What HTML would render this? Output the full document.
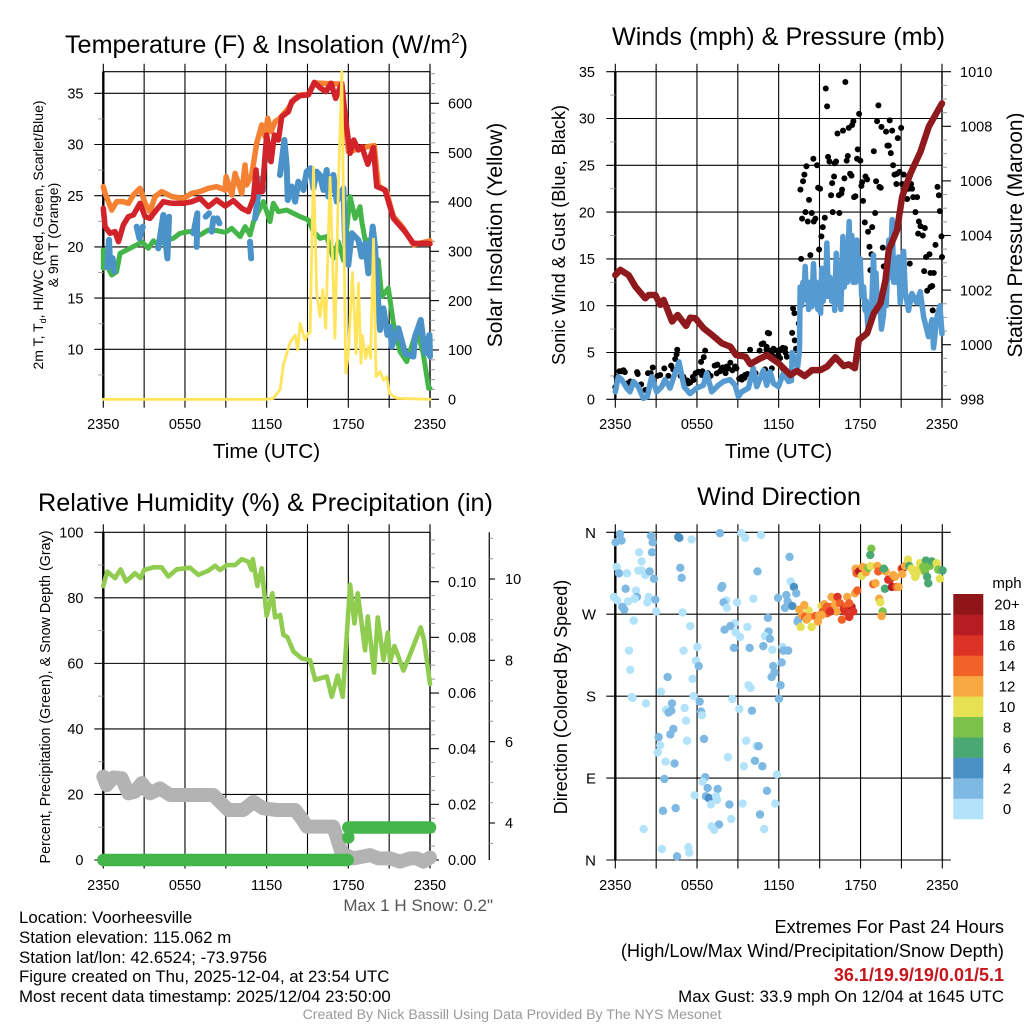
<!DOCTYPE html>
<html lang="en">
<head>
<meta charset="utf-8">
<title>Station Meteogram</title>
<style>
html,body{margin:0;padding:0;background:#fff;}
svg{display:block;font-family:"Liberation Sans",Arial,sans-serif;}
</style>
</head>
<body>
<svg id="chart" xmlns="http://www.w3.org/2000/svg" width="1024" height="1024" viewBox="0 0 1024 1024">
<rect width="1024" height="1024" fill="#fff"/>
<g id="layer"></g>
<g fill="#000" text-anchor="middle" font-size="25.2">
<text x="266.500" y="53">Temperature (F) &amp; Insolation (W/m<tspan font-size="15" dy="-10">2</tspan><tspan dy="10">)</tspan></text>
<text x="778.500" y="45">Winds (mph) &amp; Pressure (mb)</text>
<text x="265.500" y="511">Relative Humidity (%) &amp; Precipitation (in)</text>
<text x="779" y="505">Wind Direction</text>
</g>
<g fill="#000" text-anchor="middle">
<text x="266.500" y="458" font-size="20.700">Time (UTC)</text>
<text x="778.500" y="458" font-size="20.700">Time (UTC)</text>
<text font-size="14" transform="translate(43,235) rotate(-90)">2m T, T<tspan font-size="9" dy="3">d</tspan><tspan dy="-3">, HI/WC (Red, Green, Scarlet/Blue)</tspan></text>
<text font-size="14" transform="translate(58,235) rotate(-90)">&amp; 9m T (Orange)</text>
<text font-size="21" transform="translate(502,235) rotate(-90)">Solar Insolation (Yellow)</text>
<text font-size="18.150" transform="translate(565,235) rotate(-90)">Sonic Wind &amp; Gust (Blue, Black)</text>
<text font-size="20.900" transform="translate(1022,235) rotate(-90)">Station Pressure (Maroon)</text>
<text font-size="14.300" transform="translate(50,697) rotate(-90)">Percent, Precipitation (Green), &amp; Snow Depth (Gray)</text>
<text font-size="18.050" transform="translate(567,697) rotate(-90)">Direction (Colored By Speed)</text>
</g>
<g font-size="16.850" fill="#000">
<text x="493" y="911" text-anchor="end" font-size="17" fill="#555">Max 1 H Snow: 0.2"</text>
<text x="19" y="923">Location: Voorheesville</text>
<text x="19" y="943">Station elevation: 115.062 m</text>
<text x="19" y="963">Station lat/lon: 42.6524; -73.9756</text>
<text x="19" y="982">Figure created on Thu, 2025-12-04, at 23:54 UTC</text>
<text x="19" y="1002">Most recent data timestamp: 2025/12/04 23:50:00</text>
<text x="1004" y="933" text-anchor="end" font-size="18.200">Extremes For Past 24 Hours</text>
<text x="1004" y="957" text-anchor="end" font-size="18.200">(High/Low/Max Wind/Precipitation/Snow Depth)</text>
<text x="1004" y="981" text-anchor="end" font-size="18" font-weight="bold" fill="#c4161c">36.1/19.9/19/0.01/5.1</text>
<text x="1004" y="1002" text-anchor="end">Max Gust: 33.9 mph On 12/04 at 1645 UTC</text>
<text x="512" y="1019" text-anchor="middle" font-size="14.100" fill="#999">Created By Nick Bassill Using Data Provided By The NYS Mesonet</text>
</g>
</svg>
<script>
// ---------- time axis ----------
const timeTickHours = [0,3,6,9,12,15,18,21,24];
const timeTickLabels = ['2350','','0550','','1150','','1750','','2350'];

// ---------- temperature panel ----------
const tempHours = [0,.13,.49,.86,1.11,1.47,1.84,2.21,2.7,3.07,3.43,3.8,4.41,5.03,5.88,6.5,7.11,7.72,8.33,8.95,9.56,10.17,10.66,11.03,11.22,11.34,11.68,12,12.32,12.57,12.86,13.11,13.6,13.84,14.45,15.07,15.51,15.92,16.36,16.73,17.07,17.52,17.76,18.13,18.4,18.74,18.99,19.43,19.84,20.09,20.7,21.31,22.17,22.78,23.89,24];
const tempValues = [23.77,21.98,21.33,21.49,20.51,22.14,22.95,23.12,24.26,22.95,22.79,23.44,24.42,24.26,24.26,24.42,24.74,23.93,24.58,23.99,24.52,23.77,23.44,24.74,27.51,25.4,25.4,30.93,28.33,30.93,30.44,32.72,33.21,34.19,34.77,34.84,36.07,35.55,35.16,35.98,34.51,35.98,32.88,29.14,30.44,29.47,29.79,28.07,29.69,25.89,25.56,22.79,21.49,20.35,20.35,20.3];
const temp9mHours = [0,.13,.62,.98,1.47,1.84,2.21,2.7,3.07,3.43,3.8,4.29,5.03,5.88,6.5,7.11,7.72,8.33,8.95,9.02,9.44,9.68,10.17,10.41,10.53,10.9,11.27,11.64,11.88,12.08,12.32,12.62,12.98,13.6,14.09,14.45,15.07,15.5,17.5,18,19.1,19.9,20.2,20.8,21.3,22,22.8,24];
const temp9mValues = [25.88,25.23,23.6,24.42,24.42,24.25,25.07,25.72,24.25,23.44,24.91,25.4,24.91,24.74,25.23,25.4,25.72,25.88,25.56,26.86,25.07,27.18,25.23,28,26.05,27.03,30.12,31.91,30.77,32.56,31.26,32.23,32.56,33.54,34.51,34.84,34.9,36,35.9,29.3,29.7,29.9,26,25.4,23,21.9,20.2,20.6];
const dewHours = [0,0,.25,.62,.98,1.23,1.72,2.45,2.82,3.31,3.68,4.04,4.53,5.15,5.64,6.25,6.74,7.11,7.72,8.33,8.95,9.44,10.05,10.42,10.78,11.03,11.76,12.25,12.49,12.86,13.47,14.45,15.07,15.43,15.92,16.41,16.9,17.27,17.64,18.13,18.5,18.86,18.99,19.23,19.47,19.8,20.2,20.45,20.94,21.31,21.8,22.29,23.03,23.5,23.9,24];
const dewValues = [19.7,17.9,18.2,17.25,17.58,19.37,19.7,20.19,20.5,19.86,20.6,20.19,20.67,20.84,21.33,21.49,21.49,21.16,21.65,21.59,21.42,21.81,21,21.98,21.16,22.46,24.42,22.47,24.26,23.44,23.6,22.96,22.63,21.49,20.84,21,18.9,20.5,18.7,24.91,22.79,23.93,22.47,20.7,20.68,19,18.72,15.14,15.96,12.54,9.77,8.8,11.9,9.6,6.2,6.2];
const chillHours = [.3,.42,.5,.69,.79,null,2.45,2.65,2.9,null,4.04,4.41,4.58,4.71,4.83,null,6.62,6.91,6.86,null,7.52,7.77,null,7.96,8.09,null,8.38,8.53,null,10.78,10.86,null,11.15,11.34,11.64,11.76,null,12,12.02,null,12.98,13.3,13.47,13.55,13.84,14.09,14.33,14.7,14.94,15.24,15.43,15.68,15.92,16.17,16.41,16.54,16.9,17.15,17.64,17.76,18,18.25,18.74,18.98,19.23,19.47,19.79,19.96,20.21,20.33,20.58,20.87,21.07,21.19,21.68,22.17,22.78,22.9,23.32,23.64,23.96,24];
const chillValues = [18,20.7,18.5,18.9,17.6,null,21.98,20.84,21.98,null,19.86,23.12,20.35,18.88,22.95,null,21.33,23.28,20,null,22.95,23.28,null,21.49,22.79,null,22.79,22.3,null,20.5,18.88,null,22.79,24.75,26.7,25.56,null,29.1,28.5,null,27.02,30.44,28,24.58,25.9,24.42,26.37,25.56,27.35,27.68,25.72,27.35,27,25.56,27.51,24.91,27.03,24.42,25.72,20.5,18.23,21.33,20.68,19.05,20.35,17.42,21.98,20,14.17,11.89,14,11.4,12.2,10.26,12.05,9.61,9.28,11.24,12.87,9.61,11.4,9.3];
const solarHours = [0,12,12.5,12.99,13.23,13.72,14.09,14.28,14.46,14.82,15.06,15.19,15.44,15.68,15.92,16.12,16.34,16.66,17.02,17.27,17.52,17.81,18,18.3,18.57,18.74,18.93,19.03,19.28,19.47,19.64,19.85,20.04,20.33,20.58,20.82,21.02,21.56,24];
const solarValues = [0,0,2,20,70,115,130,100,154,120,134,135,470,215,167,222,144,450,124,430,665,53,93,257,93,235,73,130,83,107,83,325,46,56,39,46,12,2,0];
const tempTicks = [10,15,20,25,30,35];
const tempMinorTicks = [7.5,12.5,17.5,22.5,27.5,32.5];
const solarTicks = [0,100,200,300,400,500,600];
const solarMinorTicks = [20,40,60,80,120,140,160,180,220,240,260,280,320,340,360,380,420,440,460,480,520,540,560,580,620,640,660];

// ---------- wind panel ----------
const windHours = [0,.22,.47,.84,1.08,1.33,1.69,2.06,2.35,2.67,
3.04,3.41,3.65,4.02,4.39,4.68,5.05,5.49,5.98,6.47,
6.72,7.08,7.57,7.94,8.43,8.8,9.04,9.29,9.78,10.14,
10.39,10.88,11.12,11.37,11.62,11.98,12.35,12.72,12.94,12.99,
13.23,13.4,13.53,13.58,13.68,13.78,13.85,13.95,14.03,14.12,
14.2,14.3,14.44,14.56,14.66,14.76,14.88,15,15.08,15.17,
15.27,15.37,15.45,15.54,15.65,15.79,15.9,16.03,16.12,16.23,
16.35,16.47,16.57,16.72,16.82,16.94,17.05,17.18,17.28,17.38,
17.47,17.55,17.65,17.75,17.85,17.99,18.1,18.24,18.35,18.43,
18.55,18.68,18.8,18.97,19.05,19.15,19.26,19.4,19.55,19.7,
19.8,19.9,20.09,20.2,20.34,20.45,20.58,20.69,20.8,20.93,
21.05,21.18,21.3,21.54,21.79,22.15,22.4,22.65,23.01,23.26,
23.38,23.63,23.85,24];
const windValues = [.8,2.4,2.1,1.2,.8,1.9,1.35,.1,.3,2.4,
.8,1.35,2.1,1.2,2.8,4,1.35,.6,1.2,1.5,
2.8,.8,1.5,1.9,2.1,1.5,.3,.8,1.2,3.3,
1.35,3.1,1.5,2.95,1.7,1.35,2.8,1.9,2,5,
4,3.5,5.3,12,10,12.5,10.6,14.2,11,12.4,
9.6,12.5,9.9,14.5,10.5,12.5,9.6,11,9.2,14,
10.5,12.5,11,16.7,11,13,10.5,11.5,9.5,15.6,
11,12.5,9.6,17.4,12,15,12.5,19,13,17.5,
12.5,15,12.5,17,13,15,11,12,9.5,10.5,
7.8,9,8.5,15.4,10.5,13.5,9.5,11,7.5,9,
11.5,10,17,13,19.2,12.5,15,12.5,15.2,10.3,
12.5,15.8,11.5,9.5,11.3,10.3,11.5,8.8,6.7,8.5,
5.5,8.8,10,7];
const gustHours = [0,.1,.3,.45,.6,.7,.9,1.1,1.3,1.6,1.65,1.9,2.2,2.4,2.6,2.75,3.1,3.3,3.6,3.9,4.1,4.25,4.4,4.5,4.55,4.8,5,5.1,5.3,5.5,5.7,5.9,6.1,6.3,6.4,6.5,6.6,6.8,7,7.3,7.5,7.7,7.9,8.1,8.3,8.45,8.6,8.9,9.1,9.3,9.5,9.7,9.9,10.1,10.3,10.6,10.75,10.9,11,11.1,11.2,11.3,11.5,11.5,11.7,11.9,12.1,12.3,12.3,12.5,12.99,13.06,13.16,13.18,13.28,13.48,13.65,13.6,13.72,13.79,13.89,14.04,13.97,14.14,14.23,14.33,14.43,14.55,14.58,14.7,14.82,14.9,14.97,15.04,15.14,15.24,15.39,15.46,15.56,15.63,15.73,15.85,15.93,15.97,16.07,16.12,16.22,16.32,16.46,16.42,16.61,16.66,16.73,16.83,16.9,17,17.08,17.15,17.25,17.35,17.4,17.49,17.54,17.64,17.76,17.81,17.91,18,18.08,18.13,18.2,18.33,18.38,18.5,18.57,18.67,18.74,18.82,18.87,18.99,19.09,19.16,19.23,19.33,19.4,19.5,19.55,19.65,19.72,19.89,19.99,20.09,20.16,20.24,20.34,20.41,20.51,20.65,20.7,20.75,20.87,21,21.07,21.19,21.32,21.44,21.56,21.63,21.73,21.8,21.88,22.05,22.17,22.3,22.25,22.42,22.59,22.74,22.83,23.08,22.69,22.91,23.15,23.28,23.15,23.4,23.32,23.52,23.67,23.77,23.84,23.96,24,
5.12,5.37,5.74,6.1,6.35,7.45,7.82,8.19,8.06,8.8,7.45,9.29,9.53,10.88,11.3,11.12,11.62,11.98,12.1,12.47,12.6,12.1];
const gustValues = [1.3,2.4,3,3,3.1,2.9,1.7,1.9,1.6,2.9,2.7,1.6,1,2.8,2.8,3.4,2.5,2.6,3.3,2.5,3.6,3.2,4.3,4.8,5.3,2.5,2.4,1.8,2,1.8,2.4,2.8,2.9,4,3,4.5,5.2,2.8,2.5,3.6,3.7,3,3.4,2.8,3.3,3.9,3.1,3.3,2.2,2.1,2.3,2.7,5.3,3,2.8,5.2,5.9,4.5,3.2,5.3,7.1,5.2,5,3.3,4.5,5.2,5.3,5.5,3.3,5,7.1,9.7,9.2,6.3,5.4,8.1,15,22.4,19.3,23.3,24,24.9,20,19,21.3,15.4,19.9,25.7,19,19.3,25,22.6,16,22.5,17.4,18.4,19.4,33.2,31.3,25.9,25.4,21.8,23.1,20,23.8,25.2,25.4,28.4,19.9,21.8,22,22.4,28.7,23.6,33.9,25.5,26,29,24.1,23.9,29.3,29.7,21.6,21.7,25.7,26.7,30.5,25.5,22.8,23.2,21.2,18.9,23.8,23.5,17.9,16.3,13.8,15.5,18.4,26.5,19.9,23.3,29.7,31.4,22.7,22.6,29.1,16.2,14.2,28.6,27.1,27.1,29.8,26.3,28.7,25,24,23,24.1,27.9,24.3,29,23,24,22.4,21.4,22.5,14.5,23,22.5,21.6,20,21.6,19,17.7,18.5,17.5,18.3,15.2,15.5,13.7,11.6,12,12.1,13.5,13.5,9.5,16.5,22.7,21.8,20.1,17.4,15.2,
2.06,1.7,2.06,2.95,2.6,3.66,3.3,3.5,3.13,3.5,2.77,2.4,2.6,5.98,7.04,5.6,5.4,4.73,4.4,5.44,4.55,5.26];
const pressureHours = [0,.37,.98,1.47,2.2,2.45,2.94,3.31,3.55,4.17,4.58,5.2,5.51,5.88,6.49,7.1,7.84,8.45,8.87,9.56,9.92,10.54,11.15,12,12.86,13.35,13.91,14.46,15.07,15.56,16.17,16.78,17.15,17.6,17.89,18.5,18.99,19.48,19.85,20.09,20.7,21.07,21.69,22.42,23.03,23.52,24];
const pressureValues = [1002.55,1002.74,1002.55,1002.13,1001.7,1001.82,1001.82,1001.46,1001.64,1000.85,1001.09,1000.69,1000.99,1000.97,1000.6,1000.36,1000.05,999.93,999.62,999.56,999.29,999.47,999.62,999.32,998.89,999.04,998.85,999.07,999.07,999.2,999.54,999.22,999.28,999.14,1000.17,1000.42,1001.15,1001.52,1002.37,1003.47,1004.2,1005.42,1006.28,1007.07,1007.99,1008.42,1008.84];
const windTicks = [0,5,10,15,20,25,30,35];
const windMinorTicks = [2.5,7.5,12.5,17.5,22.5,27.5,32.5];
const pressureTicks = [998,1000,1002,1004,1006,1008,1010];
const pressureMinorTicks = [998.5,999,999.5,1000.5,1001,1001.5,1002.5,1003,1003.5,1004.5,1005,1005.5,1006.5,1007,1007.5,1008.5,1009,1009.5];

// ---------- humidity panel ----------
const humidityHours = [0,.29,.86,1.27,1.67,2.33,2.74,2.99,3.68,4.29,4.78,5.39,6.37,6.98,7.72,8.21,8.58,9.07,9.68,10.17,10.66,10.9,10.98,11.32,11.64,12,12.42,12.62,12.99,13.23,13.52,13.97,14.58,15.19,15.56,16.42,16.78,17.22,17.59,18.13,18.45,18.69,19.23,19.43,19.89,20.16,20.58,20.9,21.07,21.39,22.05,22.42,23.32,23.57,24];
const humidityValues = [83.6,88,86,88.7,85,87.5,86,88.5,89.3,89.3,86.5,88.7,89.2,87,88.3,89.8,88.5,90,90,91.8,91,88.5,91.8,83.6,89,74.5,81.4,74,74.8,68.7,68,63.6,61.5,61,55,56,49.8,56.3,49.8,84,72.2,81.4,64,74.3,57.2,74,61,69.4,60.5,65.3,57.8,61.5,71,67,53.7];
const snowHours = [0,.25,.74,1.35,1.84,2.33,2.82,3.43,4.17,4.9,8.09,8.58,9.19,10.29,11.03,11.76,12.74,14.09,14.58,14.95,16.9,17.52,18.38,19.6,20.2,21.07,21.8,22.54,23.03,23.52,24];
const snowValues = [5.14,4.93,5.12,5.1,4.73,4.77,4.98,4.73,4.85,4.69,4.69,4.52,4.32,4.32,4.52,4.36,4.32,4.32,4.11,3.91,3.91,3.25,3.13,3.21,3.13,3.13,3.05,3.13,3.13,3.05,3.15];
const precipHours = [0,17.95,null,18,18,null,18,24];
const precipValues = [0,0,null,.0081,.0081,null,.0117,.0117];
const percentTicks = [0,20,40,60,80,100];
const percentMinorTicks = [10,30,50,70,90];
const precipTicks = [0,.02,.04,.06,.08,.1];
const precipMinorTicks = [.005,.01,.015,.025,.03,.035,.045,.05,.055,.065,.07,.075,.085,.09,.095,.105,.11,.115];
const snowTicks = [4,6,8,10];
const snowMinorTicks = [3.5,4.5,5,5.5,6.5,7,7.5,8.5,9,9.5,10.5,11];

// ---------- wind direction panel ----------
const dirHours = [.34,.02,.46,2.62,2.74,4.62,4.7,5.6,7.68,9.25,9.54,10.69,1.74,2.69,1.93,12.79,.1,.27,.86,1.69,1.93,2.2,2.52,2.84,4.77,4.87,10.44,7.85,7.78,12.87,13.11,.76,1.52,1.59,-.1,.15,.93,1.42,2.45,2.35,2.94,12.55,13.28,11.94,10.13,8.15,7.95,8.93,12.65,.51,.66,8.19,12.45,12.99,3.01,4.94,11.2,1.35,5.5,8.76,8.44,8.02,9.69,11.25,8.83,9.15,10.98,11.35,13.38,13.43,1,5.01,6.02,8.71,9.86,10.86,11.52,12.28,12.35,12.69,5.92,6.12,11.59,12.21,1.1,3.84,5.67,11.47,11.69,9.78,9.93,12.13,3.35,1.2,1.27,5.75,2.25,4.16,6.19,8.59,12.01,3.72,5.09,3.91,4.11,6.29,6.36,9.1,10.03,5.19,4.26,4.04,3.18,5.26,6.51,9.61,3.3,10.37,10.52,3.11,8.27,10.25,3.69,4.35,9.44,10.79,11.86,3.6,6.6,6.41,6.78,7.51,11.13,5.82,6.65,6.87,7.39,7.46,7.02,9.34,8.37,11.74,3.5,4.43,10.62,8.51,7.61,7.07,7.26,2.08,10.93,3.42,5.36,5.43,4.53,
13.6,14.41,14.19,13.87,13.5,13.7,13.92,14.04,14.24,14.68,14.87,14.97,15.14,15.34,15.51,15.7,15.56,15.87,16.12,16.24,16.31,16.49,16.63,16.78,16.98,17.02,17.17,17.34,17.46,17.59,17.76,17.64,17.71,17.9,18.08,18.39,18.15,18.57,18.74,19.23,19.3,19.84,18.93,19.1,19.71,18.79,18.71,19.37,19.45,19.62,19.54,19.79,20.03,20.16,20.3,20.52,20.64,20.79,20.4,21.01,21.13,21.06,21.26,21.48,21.57,21.75,21.87,22.01,22.23,22.36,22.8,22.72,22.89,22.97,23.09,23.24,23.58,23.7,24.02,23.82,22.6,22.11,15.26,15.14,15.75,16.85,17.17];
const dirDegrees = [358,349,351,356,349,355,354,352,359,359,354,357,338,338,328,333,322,315,315,318,318,313,317,309,321,310,317,301,299,306,300,298,296,289,289,285,284,287,289,283,286,291,293,288,287,285,283,283,284,278,275,277,277,279,273,272,266,263,257,260,257,253,256,251,250,245,246,243,262,264,230,230,234,233,233,235,231,234,230,230,219,213,213,217,209,201,199,201,206,192,189,192,185,179,178,180,172,172,174,177,177,165,167,162,164,163,159,166,164,153,144,138,135,131,133,131,126,125,125,118,113,109,108,106,103,103,94,89,91,86,79,78,76,71,70,68,70,66,61,62,61,62,54,57,50,45,39,37,33,34,34,12,14,8,4,
256,256,274,280,275,269,267,264,267,268,262,269,279,281,278,278,271,289,281,273,289,282,264,276,279,289,267,278,273,293,296,320,315,317,312,316,322,321,323,323,317,317,303,304,320,342,335,287,283,273,268,298,308,308,300,311,300,300,313,320,321,314,323,330,323,320,317,311,319,326,329,317,311,304,323,328,326,319,318,309,322,314,273,269,273,273,282];
const dirSpeeds = [3,3,3,3,3,5,5,1,3,1,1,1,1,3,1,3,1,3,1,1,1,1,3,3,3,3,3,3,3,1,5,3,1,3,1,1,1,1,1,1,3,3,3,3,1,1,3,1,3,3,3,1,3,5,1,1,3,1,1,1,3,3,1,3,1,1,1,3,3,3,1,1,1,3,3,3,1,1,3,3,1,3,3,3,1,3,1,3,3,1,1,3,1,1,1,1,1,3,3,1,3,1,1,3,3,3,1,1,3,1,3,3,3,1,3,1,1,1,3,1,1,3,1,3,1,3,1,3,3,1,3,3,3,1,3,5,1,1,1,1,3,1,3,3,3,1,3,1,1,1,1,1,1,1,3,
11,11,11,13,13,13,15,13,13,15,13,13,11,13,15,15,15,13,13,13,17,15,15,17,15,13,17,19,17,13,15,13,15,19,11,13,13,9,11,13,15,13,15,13,7,9,7,13,11,9,13,7,17,17,19,13,15,13,13,15,19,13,13,11,7,11,11,11,11,11,7,9,7,7,9,7,11,9,7,11,9,11,15,13,17,17,15];
const dirTicks = [0,90,180,270,360];
const dirTickLabels = ['N','E','S','W','N'];
const speedLegendLabels = ['0','2','4','6','8','10','12','14','16','18','20+'];

// ---------- styling ----------
const speedColors = ['#b3e3fa','#7eb9e4','#4a90c4','#4aa872','#7bc24a','#e6e053','#f7a840','#f26228','#dc3226','#b71c23','#8f1518'];

const NS = 'http://www.w3.org/2000/svg';
const layer = document.getElementById('layer');

function make(tag, attrs, parent) {
  const el = document.createElementNS(NS, tag);
  for (const k in attrs) el.setAttribute(k, attrs[k]);
  (parent || layer).appendChild(el);
  return el;
}
function linear(d0, d1, r0, r1) {
  return function (v) { return r0 + (v - d0) * (r1 - r0) / (d1 - d0); };
}
function pathFrom(xs, ys, sx, sy) {
  let d = '', pen = false;
  for (let i = 0; i < xs.length; i++) {
    if (xs[i] === null || ys[i] === null) { pen = false; continue; }
    d += (pen ? 'L' : 'M') + sx(xs[i]).toFixed(2) + ' ' + sy(ys[i]).toFixed(2);
    pen = true;
  }
  return d;
}
function drawLine(group, name, xs, ys, sx, sy, color, width) {
  const p = make('path', {d: pathFrom(xs, ys, sx, sy), fill: 'none', stroke: color, 'stroke-width': width, 'stroke-linejoin': 'round', 'stroke-linecap': 'round'}, group);
  
  
  return p;
}
function fmt(v, dec) { return v.toFixed(dec); }

function drawFrame(name, L, R, T, B, xLabelY) {
  const g = make('g', {});
  
  
  const sx = linear(0, 24, L, R);
  timeTickHours.forEach(function (h, i) {
    const ln = make('line', {x1: sx(h), x2: sx(h), y1: T - 8, y2: B + 8.5, stroke: '#000', 'stroke-width': 1.1}, g);
    
    
    if (timeTickLabels[i]) {
      const tx = make('text', {x: sx(h), y: xLabelY, 'text-anchor': 'middle', 'font-size': 14.5, fill: '#000'}, g);
      
      
      tx.textContent = timeTickLabels[i];
    }
  });
  const axL = make('line', {x1: L, x2: L, y1: T, y2: B, stroke: '#000', 'stroke-width': 2.4}, g);
  
  
  const axR = make('line', {x1: R, x2: R, y1: T, y2: B, stroke: '#222', 'stroke-width': 1.6}, g);
  
  
  return {g: g, sx: sx, L: L, R: R};
}
function leftTicks(f, ticks, minors, sy, dec, labelX) {
  ticks.forEach(function (v) {
    const ln = make('line', {x1: f.L - 9, x2: f.R, y1: sy(v), y2: sy(v), stroke: '#000', 'stroke-width': 1.1}, f.g);
    
    
    const tx = make('text', {x: labelX, y: sy(v) + 5.2, 'text-anchor': 'end', 'font-size': 14.5, fill: '#000'}, f.g);
    
    
    tx.textContent = fmt(v, dec);
  });
  minors.forEach(function (v) {
    const ln = make('line', {x1: f.L - 5, x2: f.L, y1: sy(v), y2: sy(v), stroke: '#999', 'stroke-width': 1}, f.g);
    
    
  });
}
function rightTicks(f, ticks, minors, sy, dec, labelX) {
  ticks.forEach(function (v) {
    const ln = make('line', {x1: f.R, x2: f.R + 9, y1: sy(v), y2: sy(v), stroke: '#000', 'stroke-width': 1.1}, f.g);
    
    
    const tx = make('text', {x: labelX, y: sy(v) + 5.2, 'font-size': 14.5, fill: '#000'}, f.g);
    
    
    tx.textContent = fmt(v, dec);
  });
  minors.forEach(function (v) {
    const ln = make('line', {x1: f.R, x2: f.R + 5, y1: sy(v), y2: sy(v), stroke: '#999', 'stroke-width': 1}, f.g);
    
    
  });
}

// Panel 1: temperature
(function () {
  const T = 71.7, B = 399.3;
  const f = drawFrame('temperature-panel', 103.3, 430, T, B, 429);
  const topLine = make('line', {x1: f.L, x2: f.R, y1: T, y2: T, stroke: '#000', 'stroke-width': 1.1}, f.g);
  
  
  const sy = linear(10, 35, 349.3, 93.3);
  const ss = linear(0, 600, B, 103.3);
  leftTicks(f, tempTicks, tempMinorTicks, sy, 0, 83.5);
  rightTicks(f, solarTicks, solarMinorTicks, ss, 0, 448);
  const bottomLine = make('line', {x1: f.L, x2: f.R, y1: B, y2: B, stroke: '#000', 'stroke-width': 1.1}, f.g);
  
  
  const g = make('g', {});
  
  
  drawLine(g, 'temperature-9m-line', temp9mHours, temp9mValues, f.sx, sy, '#f58233', 5.5);
  drawLine(g, 'dew-point-line', dewHours, dewValues, f.sx, sy, '#44b549', 5);
  drawLine(g, 'wind-chill-line', chillHours, chillValues, f.sx, sy, '#4b92c8', 6);
  drawLine(g, 'temperature-2m-line', tempHours, tempValues, f.sx, sy, '#d2232a', 5.5);
  drawLine(g, 'solar-insolation-line', solarHours, solarValues, f.sx, ss, '#ffe45c', 2.8);
})();

// Panel 2: winds
(function () {
  const T = 71.7, B = 399.3;
  const f = drawFrame('winds-panel', 615.3, 942, T, B, 429);
  const sy = linear(0, 35, B, T);
  const sp = linear(998, 1010, B, T);
  leftTicks(f, windTicks, windMinorTicks, sy, 0, 595);
  rightTicks(f, pressureTicks, pressureMinorTicks, sp, 0, 960);
  const g = make('g', {});
  
  
  gustHours.forEach(function (h, i) {
    const c = make('circle', {cx: f.sx(h), cy: sy(gustValues[i]), r: 3, fill: '#000'}, g);
    
    
  });
  drawLine(g, 'sonic-wind-line', windHours, windValues, f.sx, sy, '#569ad2', 5.5);
  drawLine(g, 'station-pressure-line', pressureHours, pressureValues, f.sx, sp, '#8f1a1e', 6.5);
})();

// Panel 3: humidity
(function () {
  const T = 532.3, B = 860;
  const f = drawFrame('humidity-panel', 103.3, 430, T, B, 890);
  const sy = linear(0, 100, B, T);
  const sr = linear(0, .1, B, 581.7);
  const sn = linear(4, 10, 823, 579);
  leftTicks(f, percentTicks, percentMinorTicks, sy, 0, 83.5);
  rightTicks(f, precipTicks, precipMinorTicks, sr, 2, 448);
  const sg = make('g', {});
  
  
  const axis = make('line', {x1: 489.3, x2: 489.3, y1: T, y2: B, stroke: '#222', 'stroke-width': 1.4}, sg);
  
  
  snowTicks.forEach(function (v) {
    const ln = make('line', {x1: 489.3, x2: 495, y1: sn(v), y2: sn(v), stroke: '#000', 'stroke-width': 1.1}, sg);
    
    
    const tx = make('text', {x: 505, y: sn(v) + 5.2, 'font-size': 14.5, fill: '#000'}, sg);
    
    
    tx.textContent = String(v);
  });
  snowMinorTicks.forEach(function (v) {
    const ln = make('line', {x1: 489.3, x2: 493, y1: sn(v), y2: sn(v), stroke: '#999', 'stroke-width': 1}, sg);
    
    
  });
  const g = make('g', {});
  
  
  drawLine(g, 'snow-depth-line', snowHours, snowValues, f.sx, sn, '#b3b3b3', 14);
  drawLine(g, 'relative-humidity-line', humidityHours, humidityValues, f.sx, sy, '#8fcc4f', 4.6);
  drawLine(g, 'precipitation-line', precipHours, precipValues, f.sx, sr, '#44b549', 12.5);
})();

// Panel 4: wind direction
(function () {
  const T = 532.3, B = 860;
  const f = drawFrame('direction-panel', 615.3, 942.3, T, B, 890);
  const sy = linear(0, 360, B, T);
  dirTicks.forEach(function (v, i) {
    const ln = make('line', {x1: f.L - 9, x2: f.R + 8.5, y1: sy(v), y2: sy(v), stroke: '#000', 'stroke-width': 1.1}, f.g);
    
    
    const tx = make('text', {x: 596, y: sy(v) + 5.5, 'text-anchor': 'end', 'font-size': 15, fill: '#000'}, f.g);
    
    
    tx.textContent = dirTickLabels[i];
  });
  const g = make('g', {});
  
  
  dirHours.forEach(function (h, i) {
    const idx = Math.min(10, Math.floor(dirSpeeds[i] / 2));
    const c = make('circle', {cx: f.sx(h), cy: sy(dirDegrees[i]), r: 4.2, fill: speedColors[idx]}, g);
    
    
  });
  const lg = make('g', {});
  
  
  const unit = make('text', {x: 1007, y: 588, 'text-anchor': 'middle', 'font-size': 15, fill: '#000'}, lg);
  
  
  unit.textContent = 'mph';
  const legendTop = 594, legendStep = 225 / speedLegendLabels.length;
  speedLegendLabels.forEach(function (lab, i) {
    const row = speedLegendLabels.length - 1 - i;
    const r = make('rect', {x: 953.3, y: legendTop + row * legendStep, width: 30, height: legendStep + .3, fill: speedColors[i]}, lg);
    
    
    const tx = make('text', {x: 1007, y: legendTop + row * legendStep + legendStep / 2 + 5.4, 'text-anchor': 'middle', 'font-size': 15, fill: '#000'}, lg);
    
    
    tx.textContent = lab;
  });
})();
</script>
</body>
</html>
